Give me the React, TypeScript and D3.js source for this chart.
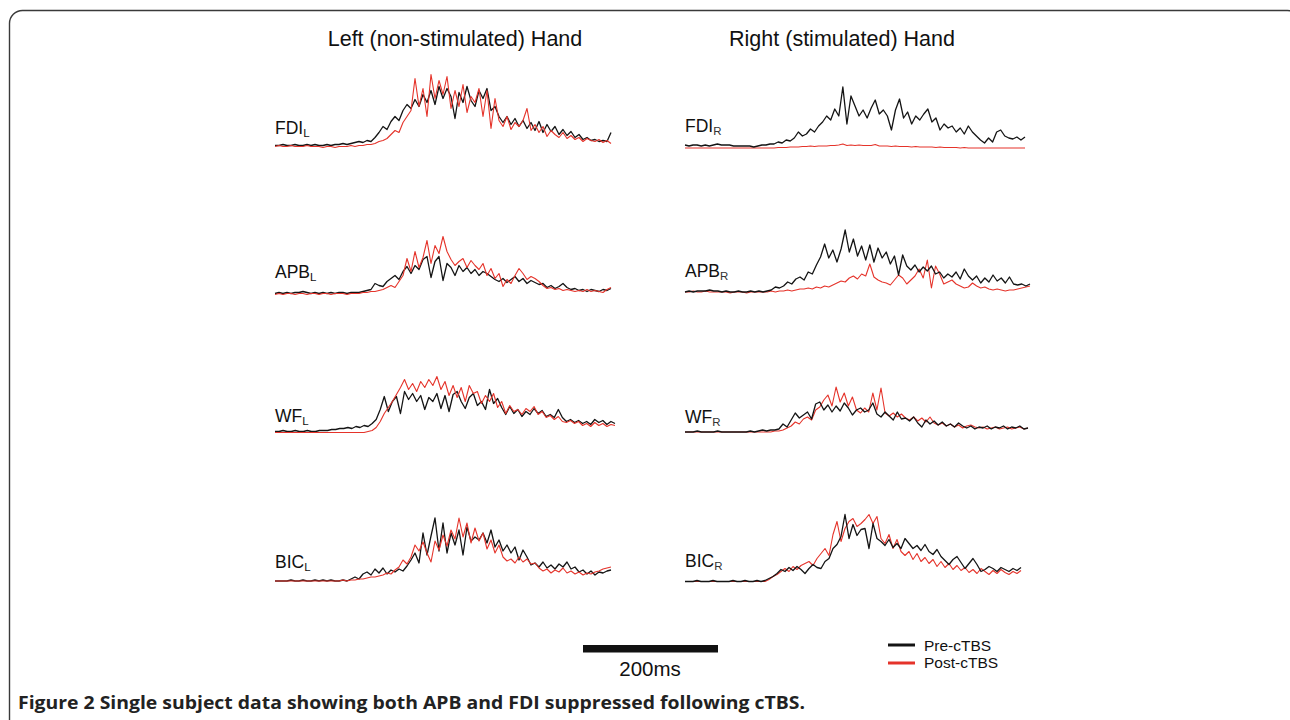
import * as d3 from 'd3'

// Single subject EMG envelopes, pre vs post cTBS. Values are trace heights
// above each row's baseline (px-ish units), 85 samples per trace.

const muscles = ['FDI', 'APB', 'WF', 'BIC']
const sides = ['L', 'R']
const columnTitles = ['Left (non-stimulated) Hand', 'Right (stimulated) Hand']
const legendLabels = ['Pre-cTBS', 'Post-cTBS']
const scaleBarLabel = '200ms'

// left hand
const fdiLPre = [
  1, 1, 2, 1, 1, 2, 1, 1, 2, 1, 2, 1, 1, 2, 1, 2, 2, 3, 2, 3, 4, 5, 4, 6, 5,
  9, 14, 20, 17, 25, 30, 26, 36, 42, 38, 47, 40, 52, 44, 56, 42, 60, 48, 58, 50,
  28, 54, 44, 60, 46, 40, 56, 48, 58, 36, 40, 30, 24, 30, 22, 28, 20, 26, 18, 24,
  16, 25, 14, 22, 15, 20, 12, 17, 11, 15, 9, 12, 7, 9, 6, 7, 5, 6, 5, 14,
]
const fdiLPost = [
  0, 1, 0, 0, 1, 0, 0, 0, 1, 0, 0, 0, -1, 0, 0, -1, 0, 0, 0, 1, 0, 1, 1, 2, 2,
  3, 5, 6, 8, 12, 16, 14, 24, 30, 36, 68, 40, 58, 30, 72, 48, 66, 52, 70, 38,
  56, 40, 62, 34, 50, 44, 58, 30, 56, 18, 48, 26, 20, 30, 17, 24, 20, 26, 38, 16,
  22, 14, 20, 10, 16, 12, 9, 14, 8, 11, 7, 9, 5, 8, 6, 5, 7, 4, 6, 3,
]
const apbLPre = [
  0, 1, 0, 1, 0, 1, 1, 2, 1, 0, 1, 0, 1, 0, 1, 0, 1, 1, 0, 1, 1, 1, 2, 3, 4,
  10, 8, 7, 12, 15, 18, 14, 22, 27, 20, 28, 24, 34, 37, 16, 32, 37, 13, 30, 26,
  18, 28, 22, 26, 20, 24, 18, 22, 20, 17, 14, 12, 15, 11, 14, 17, 12, 15, 10, 13,
  11, 9, 10, 6, 8, 5, 7, 10, 6, 4, 5, 3, 4, 2, 4, 3, 2, 4, 3, 5,
]
const apbLPost = [
  -1, 0, -1, 0, 0, -1, 0, 0, -1, 0, 0, -1, 0, 0, -1, 0, 0, 0, -1, 0, 0, 0, 1, 1, 2,
  2, 3, 4, 6, 8, 6, 12, 18, 35, 22, 42, 26, 36, 53, 30, 48, 40, 57, 42, 34,
  28, 32, 35, 26, 33, 28, 24, 30, 18, 25, 15, 20, 7, 14, 10, 18, 25, 20, 14, 17,
  15, 12, 8, 5, 6, 4, 5, 3, 4, 3, 2, 3, 2, 4, 2, 3, 2, 1, 4, 6,
]
const wfLPre = [
  0, 0, 1, 0, 0, 1, 0, 0, 1, 0, 0, 1, 1, 1, 2, 2, 3, 3, 4, 3, 5, 4, 6, 5, 8,
  12, 22, 35, 20, 30, 35, 18, 40, 32, 38, 30, 36, 22, 34, 30, 38, 23, 36, 20, 37,
  40, 30, 23, 34, 38, 26, 30, 22, 42, 28, 33, 24, 17, 25, 18, 22, 15, 20, 17, 23,
  18, 21, 15, 17, 14, 22, 14, 10, 12, 9, 11, 8, 10, 7, 12, 9, 11, 7, 10, 8,
]
const wfLPost = [
  -1, -1, -1, -1, -1, -1, -1, -1, -1, -1, -1, -1, -1, -1, -1, -1, -1, -1, -1, -1, -1, -1, -1, 0, 1,
  4, 10, 18, 24, 30, 37, 44, 52, 42, 48, 40, 50, 44, 52, 46, 55, 42, 50, 36, 46,
  34, 44, 30, 46, 38, 40, 28, 36, 30, 38, 24, 30, 18, 26, 20, 22, 17, 23, 20, 25,
  17, 20, 14, 16, 12, 15, 10, 9, 11, 8, 10, 6, 8, 5, 9, 6, 8, 5, 7, 6,
]
const bicLPre = [
  0, 0, 0, 0, 1, 0, 0, 1, 0, 0, 1, 0, 1, 0, 1, 0, 0, 1, 0, 2, 4, 2, 7, 9, 6,
  12, 8, 13, 7, 11, 9, 12, 10, 15, 21, 28, 18, 48, 26, 45, 63, 30, 58, 28, 48,
  36, 51, 26, 54, 40, 44, 41, 48, 38, 51, 34, 41, 30, 36, 28, 34, 21, 31, 24, 16,
  18, 14, 19, 13, 16, 12, 17, 14, 19, 12, 14, 9, 11, 7, 10, 6, 9, 8, 10, 11,
]
const bicLPost = [
  0, 0, 0, 0, 0, 0, 0, 0, 0, 0, 0, 0, 0, 0, 0, 0, 0, 1, 0, 1, 1, 2, 2, 3, 4,
  4, 5, 6, 8, 7, 11, 14, 21, 17, 24, 36, 30, 39, 28, 19, 40, 31, 46, 35, 51,
  42, 63, 44, 58, 38, 53, 40, 48, 32, 41, 28, 36, 24, 20, 22, 18, 24, 19, 22, 17,
  18, 13, 10, 12, 8, 11, 9, 13, 8, 10, 7, 9, 6, 8, 7, 9, 10, 12, 13, 14,
]

// right hand
const fdiRPre = [
  1, 0, 1, 1, 0, 1, 0, 1, 2, 1, 1, 1, 0, 0, 0, 0, 0, -1, 0, 1, 1, 2, 2, 4, 3,
  6, 5, 8, 14, 10, 12, 17, 14, 20, 24, 30, 26, 37, 30, 59, 22, 50, 40, 30, 36,
  28, 38, 46, 32, 36, 30, 16, 36, 47, 28, 34, 22, 30, 26, 32, 37, 24, 28, 16, 22,
  18, 20, 14, 18, 12, 20, 14, 10, 6, 3, 8, 4, 14, 16, 10, 8, 7, 9, 6, 9,
]
const fdiRPost = [
  -2, -2, -2, -2, -2, -2, -2, -2, -2, -2, -2, -2, -2, -2, -2, -2, -2, -2, -2, -2, -2, -2, -2, -1.5, -1.5,
  -1.5, -1, -1, -1, -0.5, -0.5, 0, -0.5, 0, 0, 0, 0.5, 0.5, 1, 2, 0.5, 1, 0.5, 1, 0.5,
  0.5, 0.5, 1.5, 0, 0, 0, -0.5, 0, -0.5, -0.5, -0.5, -1, -0.5, -1, -1, -1, -1, -1.5, -1, -1.5,
  -1.5, -1.5, -1.5, -2, -1.5, -2, -2, -2, -2, -2, -2, -2, -2, -2, -2, -2, -2, -2, -2, -2,
]
const apbRPre = [
  0, 1, 0, 1, 1, 1, 2, 1, 1, 0, 1, 0, 0, 1, 0, 0, 1, 0, 1, 0, 1, 2, 5, 4, 6,
  10, 8, 13, 15, 12, 20, 18, 27, 35, 48, 34, 42, 30, 43, 62, 40, 53, 36, 46, 32,
  47, 30, 44, 34, 40, 28, 36, 17, 37, 26, 22, 27, 20, 25, 21, 26, 18, 20, 14, 18,
  15, 20, 13, 23, 16, 12, 16, 9, 14, 10, 17, 11, 14, 9, 15, 8, 7, 8, 6, 8,
]
const apbRPost = [
  0, 0, 1, 0, 0, 1, 0, 0, 0, 0, 0, -1, 0, 0, 0, -1, 0, 0, 0, 0, 0, 1, 0, 1, 1,
  2, 1, 2, 3, 3, 4, 3, 5, 4, 6, 5, 7, 9, 11, 10, 14, 16, 13, 18, 16,
  28, 15, 12, 10, 9, 7, 12, 17, 14, 8, 12, 16, 23, 14, 32, 4, 26, 18, 8, 10,
  12, 8, 6, 4, 5, 9, 6, 4, 5, 3, 2, 3, 2, 1, 2, 2, 3, 4, 5, 6,
]
const wfRPre = [
  0, 0, 0, 1, 0, 0, 0, 0, 1, 0, 0, 0, 0, 0, 0, 0, 1, 0, 1, 2, 1, 2, 2, 3, 8,
  5, 12, 19, 14, 17, 20, 13, 28, 30, 22, 27, 20, 26, 21, 29, 24, 17, 22, 24, 20,
  22, 29, 18, 15, 20, 16, 12, 20, 13, 14, 11, 15, 9, 5, 12, 8, 11, 7, 10, 6,
  8, 5, 9, 6, 4, 6, 3, 5, 4, 6, 3, 5, 4, 6, 3, 5, 4, 6, 3, 4,
]
const wfRPost = [
  0, 0, 0, 0, 0, 0, 0, 0, 0, 0, 0, 0, 0, 0, 0, 0, 0, 0, 0, 0, 0, 0, 1, 1, 2,
  4, 6, 10, 8, 13, 15, 12, 22, 25, 32, 37, 26, 45, 30, 39, 26, 35, 22, 19, 24,
  20, 39, 22, 44, 19, 16, 19, 15, 18, 14, 12, 15, 11, 14, 10, 15, 9, 7, 9, 6,
  8, 5, 7, 4, 6, 7, 5, 4, 5, 3, 4, 5, 3, 4, 5, 3, 4, 5, 3, 4,
]
const bicRPre = [
  0, 0, 0, 1, 0, 0, 0, 1, 0, 0, 0, 0, 1, 0, 0, 1, 0, 0, 1, 0, 1, 3, 5, 8, 12,
  10, 14, 11, 15, 12, 8, 13, 17, 14, 13, 20, 23, 33, 37, 45, 67, 43, 57, 46, 52,
  53, 33, 58, 43, 40, 36, 42, 34, 38, 33, 43, 38, 33, 36, 31, 37, 30, 27, 32, 25,
  21, 17, 22, 25, 19, 13, 18, 23, 17, 10, 12, 15, 13, 10, 14, 12, 10, 13, 11, 14,
]
const bicRPost = [
  0, 0, 0, 0, 0, 0, 0, 0, 0, 0, 0, 0, 0, 0, 0, 0, 0, 0, 0, 0, 0, 2, 5, 7, 10,
  13, 10, 15, 12, 16, 18, 20, 16, 23, 28, 33, 26, 47, 60, 40, 53, 60, 63, 55, 58,
  62, 67, 58, 65, 43, 38, 47, 33, 42, 30, 26, 30, 22, 28, 20, 24, 18, 22, 15, 20,
  14, 18, 12, 16, 11, 14, 9, 12, 8, 13, 10, 7, 11, 8, 12, 9, 7, 10, 8, 11,
]

const traces = [
  [[fdiLPre, fdiLPost], [apbLPre, apbLPost], [wfLPre, wfLPost], [bicLPre, bicLPost]],
  [[fdiRPre, fdiRPost], [apbRPre, apbRPost], [wfRPre, wfRPost], [bicRPre, bicRPost]],
]

const W = 1290
const H = 720
const PRE = '#141414'
const POST = '#e5332a'
const SANS = '"Liberation Sans", Arial, Helvetica, sans-serif'

// layout
const colX0 = [275, 685]
const colX1 = [
  [611, 611, 615, 611],
  [1025, 1030, 1028, 1021],
]
const rowBase = [
  [146.5, 293.5, 431.5, 581],
  [146, 292, 432, 581.5],
]
const labelBase = [
  [134, 278, 422, 568],
  [132, 277, 423, 567],
]
const titleX = [455, 842]

function Trace({ values, x, y, color, width }: { values: number[]; x: d3.ScaleLinear<number, number>; y: d3.ScaleLinear<number, number>; color: string; width: number }) {
  const path = d3
    .line<number>()
    .x((_, i) => x(i))
    .y((d) => y(d))(values)
  return path ? <path d={path} fill="none" stroke={color} strokeWidth={width} strokeLinejoin="round" /> : null
}

function Panel({ col, row }: { col: number; row: number }) {
  const [pre, post] = traces[col][row]
  const x = d3.scaleLinear().domain([0, pre.length - 1]).range([colX0[col], colX1[col][row]])
  const base = rowBase[col][row]
  const y = d3.scaleLinear().domain([0, 80]).range([base, base - 80])
  // left hand: red overlays the peaks; right hand: black drawn last
  const redOnTop = col === 0
  return (
    <g>
      <text x={colX0[col]} y={labelBase[col][row]} fontFamily={SANS} fontSize={17.5} fill="#111">
        {muscles[row]}
        <tspan fontSize={11.5} dy={3} fill={col === 1 ? '#333' : '#111'}>
          {sides[col]}
        </tspan>
      </text>
      {redOnTop ? (
        <>
          <Trace values={pre} x={x} y={y} color={PRE} width={1.3} />
          <Trace values={post} x={x} y={y} color={POST} width={1.1} />
        </>
      ) : (
        <>
          <Trace values={post} x={x} y={y} color={POST} width={1.1} />
          <Trace values={pre} x={x} y={y} color={PRE} width={1.3} />
        </>
      )}
    </g>
  )
}

export default function App() {
  return (
    <svg width={W} height={H} viewBox={`0 0 ${W} ${H}`} style={{ position: 'absolute', left: 0, top: 0, background: '#fff' }}>
      <rect x={9.5} y={10.5} width={1291} height={800} rx={13} fill="#fff" stroke="#3a3a3a" strokeWidth={1.4} />
      {columnTitles.map((t, c) => (
        <text key={t} x={titleX[c]} y={45.5} textAnchor="middle" fontFamily={SANS} fontSize={21.5} fill="#111">
          {t}
        </text>
      ))}
      {[0, 1].map((c) => muscles.map((m, r) => <Panel key={`${c}-${m}`} col={c} row={r} />))}

      {/* scale bar */}
      <rect x={583} y={645} width={135} height={7.5} fill="#111" />
      <text x={650} y={676} textAnchor="middle" fontFamily={SANS} fontSize={20.5} fill="#111">
        {scaleBarLabel}
      </text>

      {/* legend */}
      {legendLabels.map((l, i) => (
        <g key={l}>
          <line x1={888} x2={915} y1={645 + i * 18} y2={645 + i * 18} stroke={i === 0 ? PRE : POST} strokeWidth={3} />
          <text x={924} y={650.5 + i * 17.5} fontFamily={SANS} fontSize={15.5} fill="#111">
            {l}
          </text>
        </g>
      ))}

      {/* caption */}
      <text x={18} y={709} fontFamily='"Open Sans", "Noto Sans", sans-serif' fontWeight={700} fontSize={18.5} fill="#222" textLength={787} lengthAdjust="spacingAndGlyphs">
        Figure 2 <tspan fontWeight={700}>Single subject data showing both APB and FDI suppressed following cTBS.</tspan>
      </text>
    </svg>
  )
}
